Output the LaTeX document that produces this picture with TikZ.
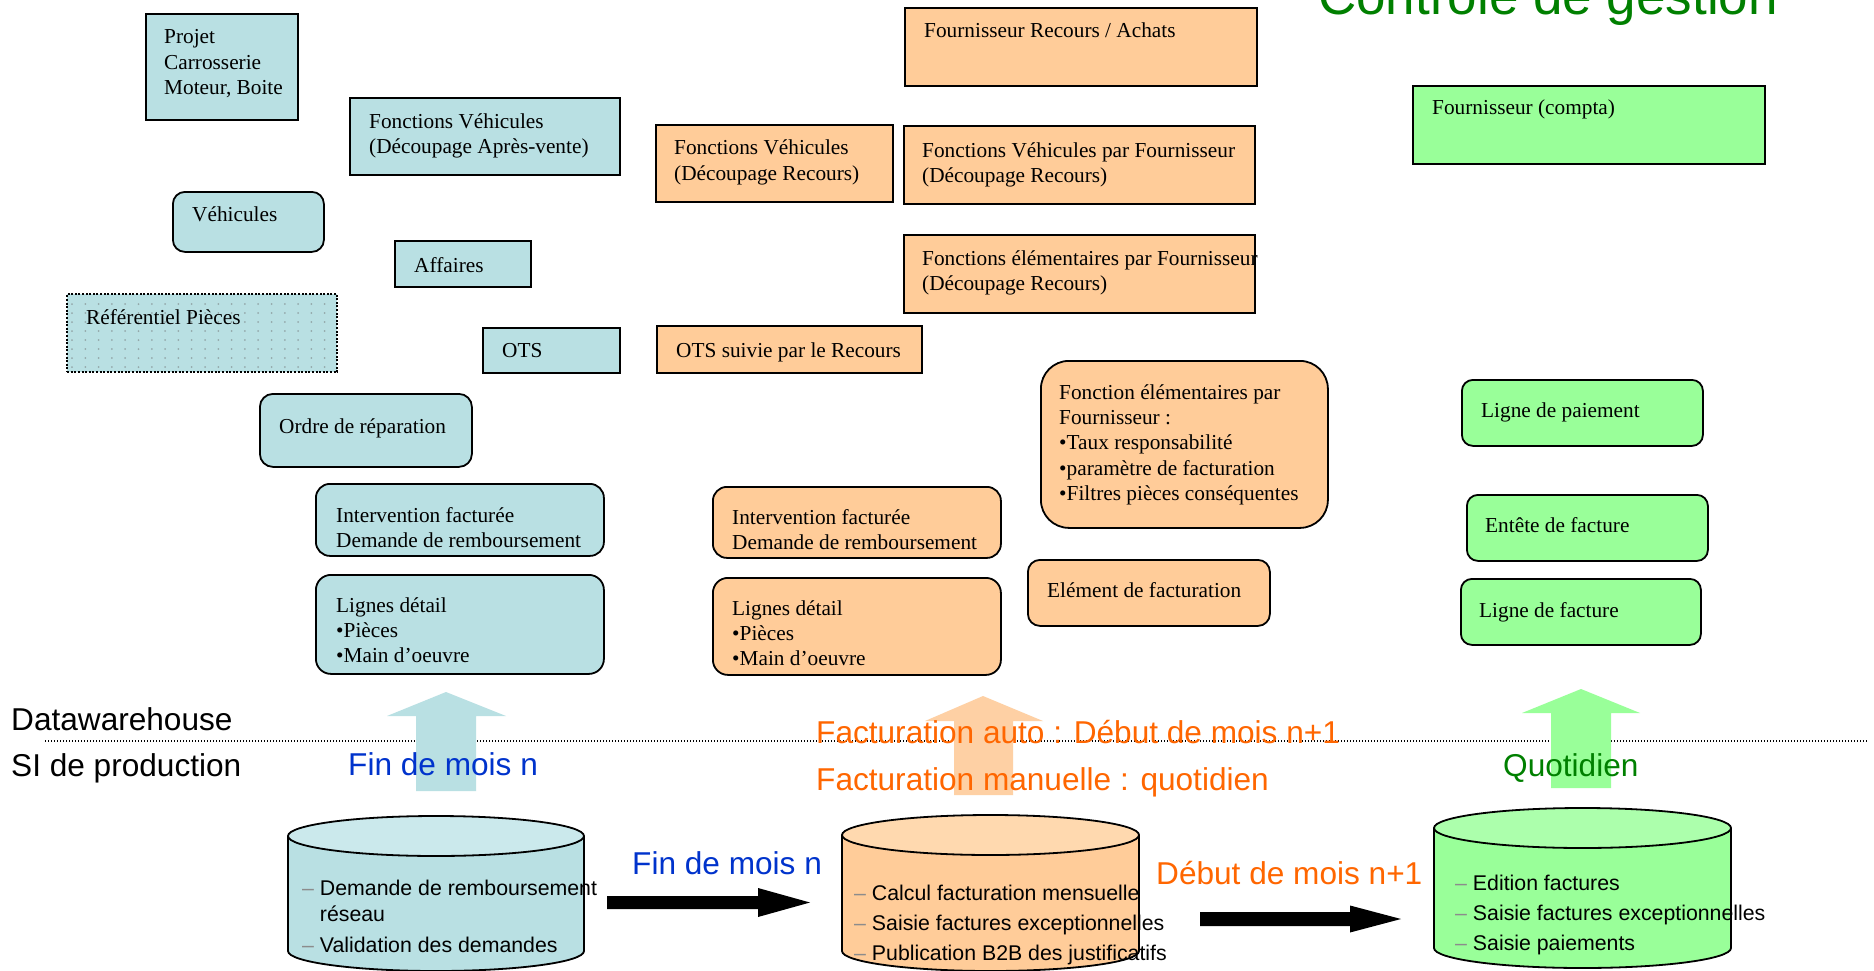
\documentclass[tikz,border=0pt]{standalone}
\usepackage{fontspec}
\setmainfont{Liberation Serif}
\newfontfamily\arialfont{Liberation Sans}
\usetikzlibrary{calc}

\definecolor{dwblue}{RGB}{185,224,227}
\definecolor{dwbluetop}{RGB}{203,233,236}
\definecolor{dworange}{RGB}{255,204,153}
\definecolor{dworangetop}{RGB}{255,217,175}
\definecolor{dwgreen}{RGB}{153,255,153}
\definecolor{dwgreentop}{RGB}{172,255,172}
\definecolor{arrorange}{RGB}{254,208,164}
\definecolor{txtblue}{RGB}{0,51,204}
\definecolor{txtorange}{RGB}{255,102,0}
\definecolor{txtgreen}{RGB}{0,128,0}
\definecolor{dashgray}{RGB}{140,140,140}
\definecolor{dotgray}{RGB}{148,168,170}

\newcommand\fBox{\fontsize{21.3}{25.4}\selectfont}
\newcommand\fCyl{\arialfont\fontsize{21.3}{30}\selectfont}
\newcommand\fLab{\arialfont\fontsize{31.6}{38}\selectfont}
\newcommand\fTitle{\arialfont\fontsize{53}{60}\selectfont}
\newcommand\dsh{\textcolor{dashgray}{–} }

% a filled frame given by its corners: name, style, x1, y1, x2, y2
\newcommand\mkbox[6]{\node[#2, minimum width={#5-#3}, minimum height={#6-#4}] (#1) at (#3,#4) {};}

% multi-line texts are placed by the baseline of their last line
\tikzset{
  frame/.style={draw=black, line width=1.8pt, anchor=north west, inner sep=0pt},
  bluebox/.style={frame, fill=dwblue},
  orangebox/.style={frame, fill=dworange},
  greenbox/.style={frame, fill=dwgreen},
  boxtext/.style={anchor=base west, inner sep=0pt, align=left, font=\fBox},
  cyltext/.style={anchor=base west, inner sep=0pt, align=left, font=\fCyl},
  lanetext/.style={anchor=base west, inner sep=0pt, font=\fLab},
  cylline/.style={draw=black, line width=1.8pt},
}

\begin{document}
\begin{tikzpicture}[x=1pt,y=-1pt]
\useasboundingbox (0,0) rectangle (1874,971);
\fill[white] (0,0) rectangle (1874,971);

% boundary between the two layers
\draw[line width=1.3pt, dash pattern=on 1.3pt off 1.7pt] (45,741) -- (1867,741);

% upward transfer arrows
\fill[dwblue] (416,791) -- (416,716) -- (387,716) -- (446,692) -- (506,716) -- (476,716) -- (476,791) -- cycle;
\fill[arrorange] (954,795) -- (954,721) -- (925,721) -- (983,696) -- (1043,721) -- (1013,721) -- (1013,795) -- cycle;
\fill[dwgreen] (1551,788) -- (1551,713) -- (1522,713) -- (1581,689) -- (1640,713) -- (1611,713) -- (1611,788) -- cycle;

% production databases
\node[inner sep=0pt, minimum width=296, minimum height=155, anchor=north west] (dbclaims) at (288,816) {};
\filldraw[fill=dwblue, cylline] (288,836) -- (288,951) arc[start angle=180, end angle=360, x radius=148pt, y radius=20pt] -- (584,836);
\filldraw[fill=dwbluetop, cylline] (436,836) ellipse[x radius=148pt, y radius=20pt];

\node[inner sep=0pt, minimum width=297, minimum height=155, anchor=north west] (dbbilling) at (842,815) {};
\filldraw[fill=dworange, cylline] (842,835) -- (842,951) arc[start angle=180, end angle=360, x radius=148.5pt, y radius=20pt] -- (1139,835);
\filldraw[fill=dworangetop, cylline] (990.5,835) ellipse[x radius=148.5pt, y radius=20pt];

\node[inner sep=0pt, minimum width=297, minimum height=160, anchor=north west] (dbaccount) at (1434,808) {};
\filldraw[fill=dwgreen, cylline] (1434,828) -- (1434,948) arc[start angle=180, end angle=360, x radius=148.5pt, y radius=20pt] -- (1731,828);
\filldraw[fill=dwgreentop, cylline] (1582.5,828) ellipse[x radius=148.5pt, y radius=20pt];

\node[cyltext] (dbclaims-t) at (302,952) {\dsh Demande de remboursement\\[-4pt]\hphantom{– }réseau\\[1pt]\dsh Validation des demandes};
\node[cyltext] (dbbilling-t) at (854,960) {\dsh Calcul facturation mensuelle\\\dsh Saisie factures exceptionnelles\\\dsh Publication B2B des justificatifs};
\node[cyltext] (dbaccount-t) at (1455,950) {\dsh Edition factures\\\dsh Saisie factures exceptionnelles\\\dsh Saisie paiements};

% flows between databases
\coordinate (flowA-s) at (607,902.5);
\coordinate (flowA-e) at (810,902.5);
\fill ($(flowA-s)+(0,-6.5)$) -- ($(flowA-e)+(-52,-6.5)$) -- ($(flowA-e)+(-52,-14.5)$) -- (flowA-e)
  -- ($(flowA-e)+(-52,14.5)$) -- ($(flowA-e)+(-52,6.5)$) -- ($(flowA-s)+(0,6.5)$) -- cycle;
\coordinate (flowB-s) at (1200,919);
\coordinate (flowB-e) at (1401,919);
\fill ($(flowB-s)+(0,-7)$) -- ($(flowB-e)+(-51,-7)$) -- ($(flowB-e)+(-51,-13.5)$) -- (flowB-e)
  -- ($(flowB-e)+(-51,13.5)$) -- ($(flowB-e)+(-51,7)$) -- ($(flowB-s)+(0,7)$) -- cycle;

% after-sales entities
\mkbox{projet}{bluebox}{145}{13}{297}{119}
\node[boxtext] (projet-t) at (164,94.8) {Projet\\Carrosserie\\Moteur, Boite};
\mkbox{fvav}{bluebox}{349}{97}{619}{174}
\node[boxtext] (fvav-t) at (369,153.4) {Fonctions Véhicules\\(Découpage Après-vente)};
\mkbox{vehic}{bluebox, rounded corners=12pt}{172}{191}{323}{251}
\node[boxtext] (vehic-t) at (192,221) {Véhicules};
\mkbox{affaires}{bluebox}{394}{240}{530}{286}
\node[boxtext] (affaires-t) at (414,272) {Affaires};
\mkbox{refp}{frame, fill=dwblue, line width=2.2pt, dash pattern=on 2pt off 1.6pt}{66}{293}{336}{371}
\foreach \i in {0,...,19}
  \foreach \j in {0,...,7}
    \fill[dotgray] ({72+\i*13.3},{304+\j*9}) circle[radius=1pt];
\node[boxtext] (refp-t) at (86,324) {Référentiel Pièces};
\mkbox{ots}{bluebox}{482}{327}{619}{372}
\node[boxtext] (ots-t) at (502,357) {OTS};
\mkbox{ordre}{bluebox, rounded corners=13pt}{259}{393}{471}{466}
\node[boxtext] (ordre-t) at (279,433) {Ordre de réparation};
\mkbox{intb}{bluebox, rounded corners=14pt}{315}{483}{603}{555}
\node[boxtext] (intb-t) at (336,547.4) {Intervention facturée\\Demande de remboursement};
\mkbox{lignb}{bluebox, rounded corners=15pt}{315}{574}{603}{673}
\node[boxtext] (lignb-t) at (336,662.8) {Lignes détail\\•Pièces\\•Main d’oeuvre};

% recourse entities
\mkbox{fra}{orangebox}{904}{7}{1256}{85}
\node[boxtext] (fra-t) at (924,38) {Fournisseur Recours / Achats};
\mkbox{fvrec}{orangebox}{655}{124}{892}{201}
\node[boxtext] (fvrec-t) at (674,180.4) {Fonctions Véhicules\\(Découpage Recours)};
\mkbox{fvf}{orangebox}{903}{125}{1254}{203}
\node[boxtext] (fvf-t) at (922,182.4) {Fonctions Véhicules par Fournisseur\\(Découpage Recours)};
\mkbox{fef}{orangebox}{903}{234}{1254}{312}
\node[boxtext] (fef-t) at (922,290.4) {Fonctions élémentaires par Fournisseur\\(Découpage Recours)};
\mkbox{otsr}{orangebox}{656}{325}{921}{372}
\node[boxtext] (otsr-t) at (676,357) {OTS suivie par le Recours};
\mkbox{fefp}{orangebox, rounded corners=28pt}{1040}{360}{1327}{527}
\node[boxtext] (fefp-t) at (1059,500.6) {Fonction élémentaires par\\Fournisseur :\\•Taux responsabilité\\•paramètre de facturation\\•Filtres pièces conséquentes};
\mkbox{into}{orangebox, rounded corners=14pt}{712}{486}{1000}{557}
\node[boxtext] (into-t) at (732,549.4) {Intervention facturée\\Demande de remboursement};
\mkbox{ligno}{orangebox, rounded corners=15pt}{712}{577}{1000}{674}
\node[boxtext] (ligno-t) at (732,665.8) {Lignes détail\\•Pièces\\•Main d’oeuvre};
\mkbox{elem}{orangebox, rounded corners=12pt}{1027}{559}{1269}{625}
\node[boxtext] (elem-t) at (1047,597) {Elément de facturation};

% accounting entities
\mkbox{fcompta}{greenbox}{1412}{85}{1764}{163}
\node[boxtext] (fcompta-t) at (1432,115) {Fournisseur (compta)};
\mkbox{lpay}{greenbox, rounded corners=11pt}{1461}{379}{1702}{445}
\node[boxtext] (lpay-t) at (1481,417) {Ligne de paiement};
\mkbox{entete}{greenbox, rounded corners=11pt}{1466}{494}{1707}{560}
\node[boxtext] (entete-t) at (1485,532) {Entête de facture};
\mkbox{lfact}{greenbox, rounded corners=11pt}{1460}{578}{1700}{644}
\node[boxtext] (lfact-t) at (1479,617) {Ligne de facture};

% layer names, schedules and title
\node[lanetext] (dwh) at (11,730) {Datawarehouse};
\node[lanetext] (sip) at (11,776) {SI de production};
\node[lanetext, text=txtblue] (finA) at (348,775) {Fin de mois n};
\node[lanetext, text=txtblue] (finB) at (632,874) {Fin de mois n};
\node[lanetext, text=txtorange] (fauto) at (816,743) {Facturation auto : Début de mois n+1};
\node[lanetext, text=txtorange] (fman) at (816,790) {Facturation manuelle : quotidien};
\node[lanetext, text=txtorange] (debut) at (1156,884) {Début de mois n+1};
\node[lanetext, text=txtgreen] (quot) at (1503,776) {Quotidien};
\node[anchor=base west, inner sep=0pt, font=\fTitle, text=txtgreen] (title) at (1318,15) {Contrôle de gestion};
\end{tikzpicture}
\end{document}
